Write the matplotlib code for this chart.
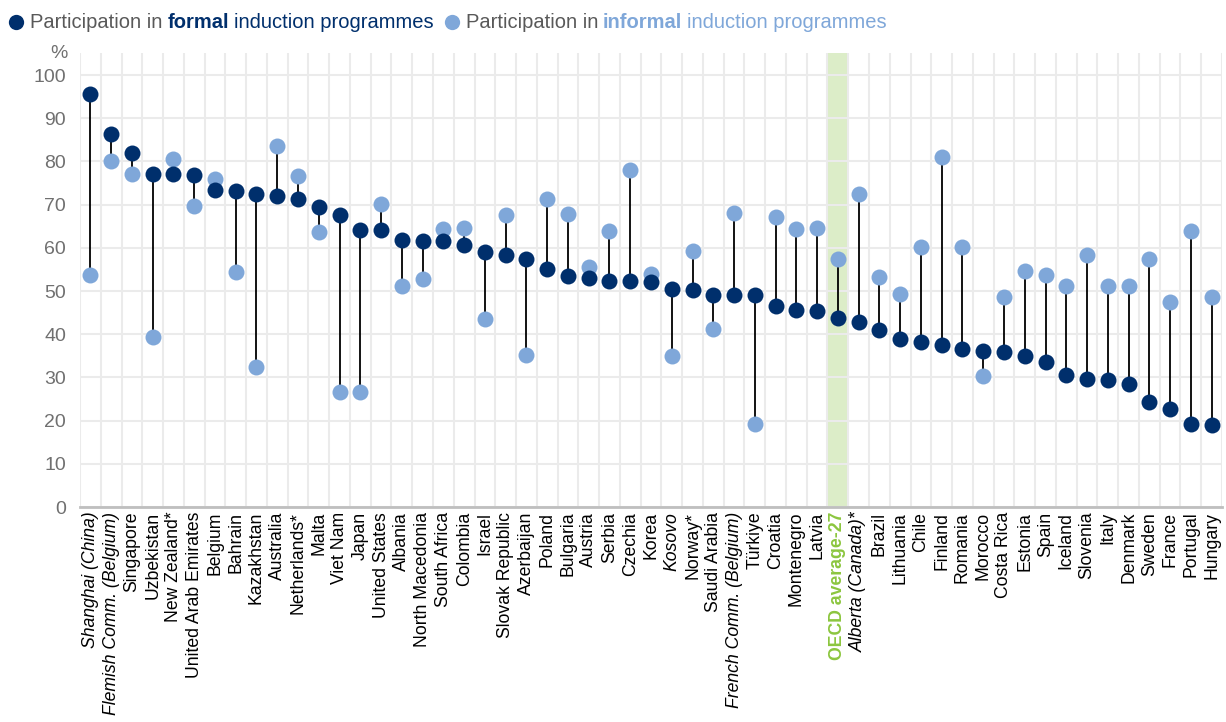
import matplotlib
matplotlib.use("Agg")
import matplotlib.pyplot as plt
import matplotlib.transforms as mtransforms
from matplotlib.lines import Line2D
from matplotlib import font_manager
import numpy as np

countries = ["Shanghai (China)", "Flemish Comm. (Belgium)", "Singapore", "Uzbekistan",
             "New Zealand*", "United Arab Emirates", "Belgium", "Bahrain", "Kazakhstan",
             "Australia", "Netherlands*", "Malta", "Viet Nam", "Japan", "United States",
             "Albania", "North Macedonia", "South Africa", "Colombia", "Israel",
             "Slovak Republic", "Azerbaijan", "Poland", "Bulgaria", "Austria", "Serbia",
             "Czechia", "Korea", "Kosovo", "Norway*", "Saudi Arabia",
             "French Comm. (Belgium)", "Türkiye", "Croatia", "Montenegro", "Latvia",
             "OECD average-27", "Alberta (Canada)*", "Brazil", "Lithuania", "Chile",
             "Finland", "Romania", "Morocco", "Costa Rica", "Estonia", "Spain", "Iceland",
             "Slovenia", "Italy", "Denmark", "Sweden", "France", "Portugal", "Hungary"]

formal = [95.5, 86.4, 81.9, 77.2, 77.0, 76.8, 73.3, 73.2, 72.5, 72.0, 71.2, 69.4, 67.6,
          64.1, 64.1, 61.7, 61.5, 61.5, 60.7, 59.1, 58.3, 57.5, 55.0, 53.4, 53.1, 52.3,
          52.3, 52.2, 50.5, 50.2, 49.1, 49.0, 49.0, 46.6, 45.5, 45.3, 43.7, 42.8, 41.0,
          38.9, 38.2, 37.4, 36.6, 36.2, 35.9, 35.0, 33.5, 30.6, 29.6, 29.3, 28.4, 24.2,
          22.7, 19.2, 19.0]

informal = [53.8, 80.2, 77.1, 39.4, 80.6, 69.7, 75.9, 54.3, 32.3, 83.6, 76.7, 63.6, 26.6,
            26.6, 70.2, 51.1, 52.8, 64.3, 64.7, 43.6, 67.5, 35.3, 71.3, 67.8, 55.5, 63.8,
            78.1, 54.0, 35.0, 59.3, 41.1, 68.1, 19.1, 67.2, 64.3, 64.6, 57.5, 72.4, 53.3,
            49.3, 60.3, 81.0, 60.3, 30.4, 48.5, 54.6, 53.6, 51.1, 58.3, 51.1, 51.1, 57.4,
            47.5, 64.0, 48.6]

italic_labels = ["Shanghai (China)", "Flemish Comm. (Belgium)", "Kosovo",
                 "French Comm. (Belgium)", "Alberta (Canada)*"]
highlight = "OECD average-27"

dark = "#002F6C"
light = "#7FA7D9"
green = "#8CC63F"
band = "#DCEDC8"

names = {f.name for f in font_manager.fontManager.ttflist}
font = "Liberation Sans Narrow" if "Liberation Sans Narrow" in names else "Liberation Sans"
plt.rcParams["font.family"] = [font, "DejaVu Sans"]

fig = plt.figure(figsize=(12.26, 7.22), dpi=100)
ax = fig.add_axes([80 / 1226, 1 - 507 / 722, 1142 / 1226, 454 / 722])

x = np.arange(len(countries))
hi = countries.index(highlight)
ax.axvspan(hi - 0.5, hi + 0.5, color=band, zorder=0.5, lw=0)

ax.vlines(x, formal, informal, color="black", lw=1.3, zorder=2)
ax.plot(x, informal, "o", color=light, ms=11.5, mec="none", zorder=3)
ax.plot(x, formal, "o", color=dark, ms=11.5, mec="none", zorder=4)

ax.set_xlim(-0.5, len(countries) - 0.5)
ax.set_ylim(0, 105.1)
ax.set_yticks(np.arange(0, 101, 10))
ax.set_xticks(x)
ax.set_xticks(np.arange(-0.5, len(countries), 1), minor=True)
ax.grid(True, which="minor", axis="x", color="#ebebeb", lw=1.5, zorder=0)
ax.grid(True, which="major", axis="y", color="#ebebeb", lw=1.5, zorder=0)
ax.set_axisbelow(True)
ax.tick_params(axis="both", which="both", length=0)
ax.tick_params(axis="y", labelsize=14, labelcolor="#707070", pad=10)
ax.set_xticklabels(countries, rotation=90, fontsize=12.7, va="top", ha="center")
for lab in ax.get_xticklabels():
    t = lab.get_text()
    if t in italic_labels:
        lab.set_style("italic")
    if t == highlight:
        lab.set_color(green)
        lab.set_weight("bold")
for s in ["top", "right", "left"]:
    ax.spines[s].set_visible(False)
ax.spines["bottom"].set_color("#bfbfbf")
ax.spines["bottom"].set_linewidth(2)
ax.annotate("%", xy=(0, 1), xycoords="axes fraction", xytext=(-12, 0),
            textcoords="offset pixels", ha="right", va="center", fontsize=14,
            color="#707070")

# legend made of text pieces
ident = mtransforms.IdentityTransform()
renderer = fig.canvas.get_renderer()
ly = 722 - 22
pieces = [
    ("m", dark), ("Participation in", "#595959", "normal"), ("formal", dark, "bold"),
    ("induction programmes", dark, "normal"),
    ("m", light), ("Participation in", "#595959", "normal"), ("informal", light, "bold"),
    ("induction programmes", light, "normal"),
]
cx = 16
for p in pieces:
    if p[0] == "m":
        fig.add_artist(Line2D([cx], [ly], marker="o", color=p[1], ms=11, mec="none",
                              transform=ident))
        cx += 14
        continue
    t = fig.text(cx, ly, p[0], color=p[1], weight=p[2], fontsize=14.5, va="center",
                 ha="left", transform=ident)
    bb = t.get_window_extent(renderer)
    cx = bb.x1 + 5
    if p[0] == "induction programmes":
        cx += 13

fig.savefig("out.png", dpi=100)
